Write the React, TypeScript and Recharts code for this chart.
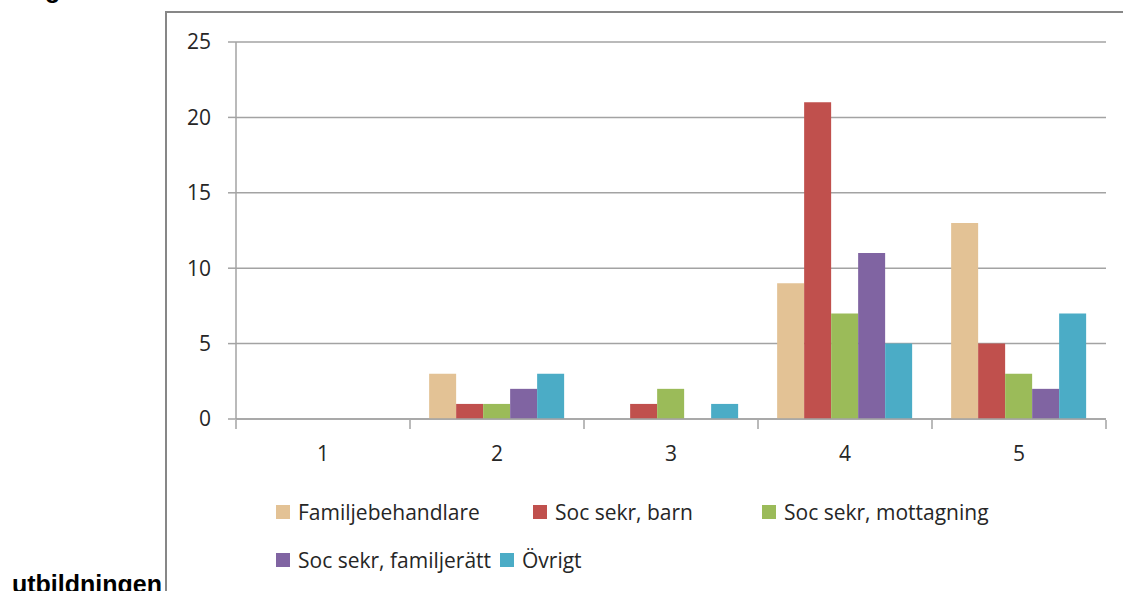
import { BarChart, Bar, XAxis, YAxis, CartesianGrid, Legend } from 'recharts';

const categories = ['1', '2', '3', '4', '5'];
const familjebehandlare = [0, 3, 0, 9, 13];
const socSekrBarn = [0, 1, 1, 21, 5];
const socSekrMottagning = [0, 1, 2, 7, 3];
const socSekrFamiljeratt = [0, 2, 0, 11, 2];
const ovrigt = [0, 3, 1, 5, 7];
const yTicks = [0, 5, 10, 15, 20, 25];
const edgeTicks = [0, 1, 2, 3, 4, 5];

const series = [
  { key: 'fam', name: 'Familjebehandlare', color: '#E3C295', values: familjebehandlare },
  { key: 'barn', name: 'Soc sekr, barn', color: '#C0504D', values: socSekrBarn },
  { key: 'mott', name: 'Soc sekr, mottagning', color: '#9BBB59', values: socSekrMottagning },
  { key: 'famr', name: 'Soc sekr, familjerätt', color: '#8064A2', values: socSekrFamiljeratt },
  { key: 'ovr', name: 'Övrigt', color: '#4BACC6', values: ovrigt },
];

const data = categories.map((c, i) => {
  const row: Record<string, string | number> = { cat: c };
  series.forEach((s) => {
    row[s.key] = s.values[i];
  });
  return row;
});

const FONT = '"Open Sans", Lato, sans-serif';
const GRID = '#a3a3a3';
const TEXT = '#262626';

// excel puts the legend in two rows with uneven columns
const legendRows = [
  [257, 229, 0],
  [224, 0],
];

function LegendContent() {
  // recharts 3 sorts the payload by name, so go by series order instead
  let idx = 0;
  return (
    <div style={{ fontFamily: FONT, fontSize: 21, color: TEXT }}>
      {legendRows.map((widths, r) => (
        <div key={r} style={{ display: 'flex', height: 48, alignItems: 'center' }}>
          {widths.map((w) => {
            const s = series[idx++];
            if (!s) return null;
            return (
              <div
                key={s.key}
                style={{ display: 'flex', alignItems: 'center', width: w || undefined }}
              >
                <span
                  style={{
                    display: 'inline-block',
                    width: 14,
                    height: 14,
                    background: s.color,
                    marginRight: 8,
                  }}
                />
                <span style={{ whiteSpace: 'nowrap' }}>{s.name}</span>
              </div>
            );
          })}
        </div>
      ))}
    </div>
  );
}

export default function App() {
  const boldText = {
    position: 'absolute' as const,
    fontFamily: '"Liberation Sans", sans-serif',
    fontWeight: 700,
    fontSize: 25,
    lineHeight: '25px',
    whiteSpace: 'nowrap' as const,
  };
  return (
    <div
      style={{
        position: 'absolute',
        left: 0,
        top: 0,
        width: 1123,
        height: 591,
        overflow: 'hidden',
        background: '#fff',
      }}
    >
      <div style={{ ...boldText, left: 45, top: -23 }}>g</div>
      <div style={{ ...boldText, left: 12, top: 572 }}>utbildningen</div>
      <div
        style={{
          position: 'absolute',
          left: 165,
          top: 11,
          width: 1000,
          height: 700,
          border: '2px solid #878787',
        }}
      />
      <div style={{ position: 'absolute', left: 0, top: 0 }}>
        <BarChart
          width={1123}
          height={591}
          data={data}
          margin={{ top: 42, right: 17, left: 0, bottom: 170 }}
          barCategoryGap="11%"
          barGap={0}
        >
          <CartesianGrid horizontal vertical={false} stroke={GRID} strokeWidth={1.5} yAxisId="y" xAxisId="cat" />
          <XAxis
            xAxisId="cat"
            dataKey="cat"
            height={1}
            tickSize={0}
            tickMargin={27}
            tickLine={false}
            axisLine={{ stroke: GRID, strokeWidth: 1.5 }}
            tick={{ fill: TEXT, fontSize: 21, fontFamily: FONT }}
          />
          <XAxis
            xAxisId="edge"
            type="number"
            dataKey="edge"
            domain={[0, 5]}
            ticks={edgeTicks}
            interval={0}
            allowDataOverflow
            height={1}
            tickFormatter={() => ''}
            tickSize={9}
            tickLine={{ stroke: GRID, strokeWidth: 1.5 }}
            axisLine={false}
          />
          <YAxis
            yAxisId="y"
            width={236}
            domain={[0, 25]}
            ticks={yTicks}
            tickSize={8}
            tickMargin={17}
            axisLine={{ stroke: GRID, strokeWidth: 1.5 }}
            tickLine={{ stroke: GRID, strokeWidth: 1.5 }}
            tick={{ fill: TEXT, fontSize: 21, fontFamily: FONT }}
          />
          <Legend
            layout="horizontal"
            verticalAlign="middle"
            align="center"
            content={<LegendContent />}
            wrapperStyle={{ left: 276, top: 488, width: 820, height: 96 }}
          />
          {series.map((s) => (
            <Bar
              key={s.key}
              dataKey={s.key}
              name={s.name}
              fill={s.color}
              xAxisId="cat"
              yAxisId="y"
              isAnimationActive={false}
            />
          ))}
        </BarChart>
      </div>
    </div>
  );
}
